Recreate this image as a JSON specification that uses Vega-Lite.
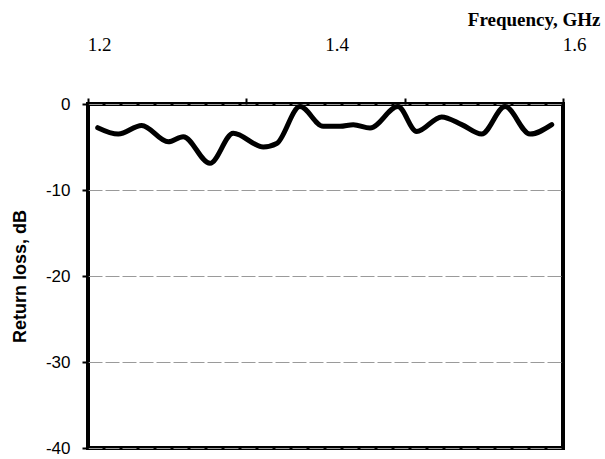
{
  "$schema": "https://vega.github.io/schema/vega-lite/v6.json",
  "width": 475,
  "height": 344,
  "autosize": {"type": "none"},
  "padding": {"left": 88, "top": 104, "right": 42, "bottom": 11},
  "background": "white",
  "config": {
    "view": {"stroke": "black", "strokeWidth": 4},
    "axis": {"domain": false, "labelColor": "black", "titleColor": "black"}
  },
  "data": {
    "values": [
      {"freq": 1.2082, "rl": -2.75},
      {"freq": 1.2255, "rl": -3.5},
      {"freq": 1.2452, "rl": -2.5},
      {"freq": 1.2676, "rl": -4.4},
      {"freq": 1.2802, "rl": -3.8},
      {"freq": 1.3027, "rl": -6.9},
      {"freq": 1.3223, "rl": -3.4},
      {"freq": 1.3476, "rl": -5.0},
      {"freq": 1.3589, "rl": -4.6},
      {"freq": 1.3785, "rl": -0.3},
      {"freq": 1.3981, "rl": -2.6},
      {"freq": 1.4122, "rl": -2.6},
      {"freq": 1.4234, "rl": -2.4},
      {"freq": 1.4375, "rl": -2.8},
      {"freq": 1.461, "rl": -0.3},
      {"freq": 1.4768, "rl": -3.2},
      {"freq": 1.4978, "rl": -1.5},
      {"freq": 1.5147, "rl": -2.4},
      {"freq": 1.5315, "rl": -3.5},
      {"freq": 1.5512, "rl": -0.3},
      {"freq": 1.5722, "rl": -3.5},
      {"freq": 1.5905, "rl": -2.4}
    ]
  },
  "encoding": {
    "y": {
      "field": "rl",
      "type": "quantitative",
      "scale": {"domain": [-40, 0], "nice": false, "zero": false},
      "axis": {
        "values": [0, -10, -20, -30, -40],
        "labelExpr": "datum.value == 0 ? '0' : '-' + abs(datum.value)",
        "grid": true,
        "gridColor": "#9a9a9a",
        "gridWidth": 1,
        "gridDash": [14, 3],
        "tickSize": 6,
        "tickWidth": 2,
        "tickColor": "black",
        "labelFont": "Liberation Sans",
        "labelFontSize": 17,
        "labelPadding": 12,
        "title": "Return loss, dB",
        "titleFont": "Liberation Sans",
        "titleFontSize": 18,
        "titleFontWeight": "bold",
        "titleAngle": 270,
        "titleAlign": "center",
        "titleBaseline": "middle",
        "titleX": -68,
        "titleY": 172
      }
    }
  },
  "layer": [
    {
      "mark": {"type": "line", "strokeWidth": 0, "opacity": 0},
      "encoding": {
        "x": {
          "field": "freq",
          "type": "quantitative",
          "scale": {"domain": [1.2, 1.6], "nice": false, "zero": false},
          "axis": {
            "orient": "top",
            "values": [1.2, 1.33333, 1.46667, 1.6],
            "labels": false,
            "grid": false,
            "tickSize": 6,
            "tickWidth": 2,
            "tickColor": "black",
            "title": null
          }
        }
      }
    },
    {
      "mark": {"type": "line", "color": "black", "strokeWidth": 5, "interpolate": "monotone", "strokeCap": "round", "strokeJoin": "round"},
      "encoding": {
        "x": {
          "field": "freq",
          "type": "quantitative",
          "scale": {"domain": [1.2, 1.6], "nice": false, "zero": false},
          "axis": {
            "orient": "top",
            "values": [1.2, 1.4, 1.6],
            "format": ".1f",
            "ticks": false,
            "grid": false,
            "labelFont": "Liberation Serif",
            "labelFontSize": 19,
            "labelPadding": 50,
            "labelOffset": 11,
            "labelFlush": false,
            "title": "Frequency, GHz",
            "titleFont": "Liberation Serif",
            "titleFontSize": 19,
            "titleFontWeight": "bold",
            "titleAlign": "right",
            "titleAnchor": null,
            "titleBaseline": "alphabetic",
            "titleX": 512,
            "titleY": -79
          }
        }
      }
    }
  ],
  "resolve": {"axis": {"x": "independent"}}
}
